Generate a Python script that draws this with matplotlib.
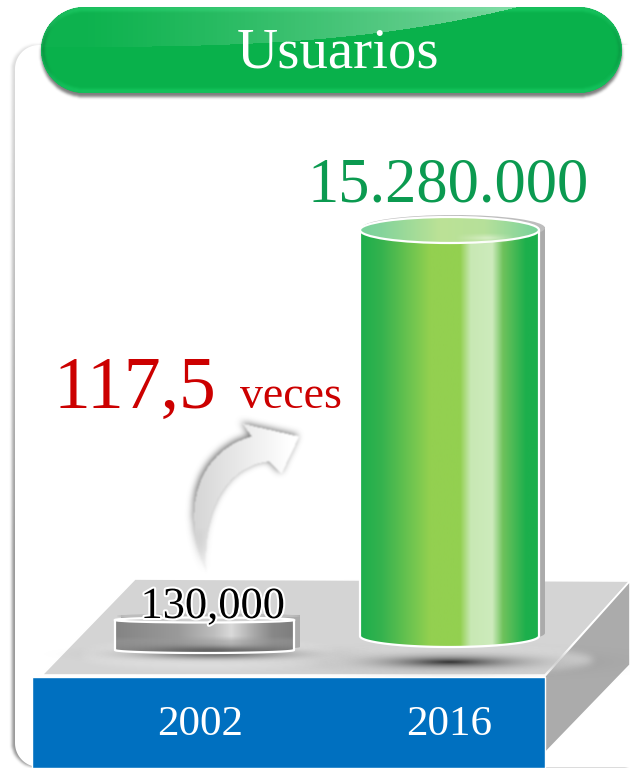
import numpy as np
import matplotlib
matplotlib.use('Agg')
import matplotlib.pyplot as plt
import matplotlib.patheffects as pe
from matplotlib.colors import LinearSegmentedColormap, to_rgb
from matplotlib.patches import Ellipse, Polygon
from matplotlib.path import Path

years = ['2002', '2016']
users = [130000, 15280000]
value_labels = ['130,000', '15.280.000']
title = 'Usuarios'
ratio_number = '117,5'
ratio_word = 'veces'

W, H = 630, 768
SERIF = 'Liberation Serif'
GRID_X, GRID_Y = np.meshgrid(np.arange(W) + 0.5, np.arange(H) + 0.5)


def bar_height(value):
    # the picture is not linear, small bar is far taller than it should be
    return 406 * (value / max(users)) ** 0.5465


def blur(a, size):
    kernel = np.ones(size) / size
    for _ in range(3):
        a = np.apply_along_axis(lambda r: np.convolve(r, kernel, mode='same'), 0, a)
        a = np.apply_along_axis(lambda r: np.convolve(r, kernel, mode='same'), 1, a)
    return a


def rgba_layer(ax, alpha, color, zorder):
    img = np.zeros((H, W, 4))
    img[..., :3] = to_rgb(color)
    img[..., 3] = np.clip(alpha, 0, 1)
    return ax.imshow(img, extent=(0, W, H, 0), aspect='auto', zorder=zorder,
                     interpolation='bilinear')


def path_mask(verts):
    pts = np.column_stack([GRID_X.ravel(), GRID_Y.ravel()])
    return Path(verts).contains_points(pts).reshape(H, W).astype(float)


def soft_ellipse(cx, cy, rx, ry, power=2.0):
    d = ((GRID_X - cx) / rx) ** 2 + ((GRID_Y - cy) / ry) ** 2
    return np.exp(-d ** (power / 2))


def gradient(ax, stops, extent, clip, zorder, vertical=False):
    cmap = LinearSegmentedColormap.from_list('g', stops)
    ramp = np.linspace(0, 1, 256)
    ramp = ramp[:, None] if vertical else ramp[None, :]
    im = ax.imshow(ramp, cmap=cmap, extent=extent, aspect='auto', zorder=zorder,
                   vmin=0, vmax=1, interpolation='bilinear')
    im.set_clip_path(clip)
    return im


def round_rect(x0, y0, x1, y1, r):
    t = np.linspace(0, np.pi / 2, 30)
    c, s = np.cos(t), np.sin(t)
    xs = np.concatenate([x1 - r + r * s, x1 - r + r * c, x0 + r - r * s, x0 + r - r * c])
    ys = np.concatenate([y0 + r - r * c, y1 - r + r * s, y1 - r + r * c, y0 + r - r * s])
    return np.column_stack([xs, ys])


def cylinder_side(x0, x1, top, bottom, ry):
    cx, hw = (x0 + x1) / 2, (x1 - x0) / 2
    t = np.linspace(np.pi, 0, 80)
    arc = np.column_stack([cx + hw * np.cos(t), bottom + ry * np.sin(t)])
    return np.vstack([[(x0, top)], arc, [(x1, top)]])


def bezier(p0, p1, p2, p3, n=40):
    t = np.linspace(0, 1, n)[:, None]
    p0, p1, p2, p3 = map(np.array, (p0, p1, p2, p3))
    return (1 - t) ** 3 * p0 + 3 * (1 - t) ** 2 * t * p1 + 3 * (1 - t) * t ** 2 * p2 + t ** 3 * p3


fig = plt.figure(figsize=(W / 100, H / 100), dpi=100, facecolor='white')
ax = fig.add_axes([0, 0, 1, 1])
ax.axis('off')

# rounded panel behind everything
panel_verts = round_rect(15, 45, 720, 767, 24)
panel_mask = path_mask(panel_verts)
panel_fade = 0.3 + 0.6 * np.clip((GRID_Y - 60) / 500, 0, 1)
rgba_layer(ax, blur(np.roll(panel_mask, -3, axis=1), 3) * panel_fade, '#8a8a8a', 1)
ax.add_patch(Polygon(panel_verts, closed=True, fc='white', ec='none', zorder=2))

# header pill
pill_verts = round_rect(41, 7, 622, 93, 43)
pill_mask = path_mask(pill_verts)
shadow = blur(np.roll(pill_mask, 4, axis=0), 3)
rgba_layer(ax, shadow * 0.62, '#303030', 3)
pill = Polygon(pill_verts, closed=True, fc='#09B14B', ec='none', zorder=4)
ax.add_patch(pill)

# rims of the pill
left_rim = pill_mask * (1 - blur(np.roll(pill_mask, 3, axis=1), 3))
rgba_layer(ax, left_rim * 0.75, '#0A7A38', 5)
right_rim = pill_mask * (1 - blur(np.roll(pill_mask, -3, axis=1), 3))
rgba_layer(ax, right_rim * 0.55, '#0A7A38', 5)
low_rim = pill_mask * (1 - blur(np.roll(pill_mask, -4, axis=0), 3))
rgba_layer(ax, low_rim * 0.7, '#19CF66', 5)
top_rim = pill_mask * (1 - blur(np.roll(pill_mask, 4, axis=0), 3))
rgba_layer(ax, top_rim * 0.6, '#20D56C', 5)

# gloss, fades in to the right and stops on a curve
pos = np.clip((GRID_X - 41) / 477, 0, 1)
curve = 47 - 40 * pos ** 3
gloss_alpha = (GRID_Y < curve) * (0.02 + 0.42 * np.clip((GRID_X - 80) / 420, 0, 1) ** 1.2)
gloss = rgba_layer(ax, gloss_alpha, '#ffffff', 6)
gloss.set_clip_path(pill)
ax.text(338, 68, title, family=SERIF, size=41, color='white', ha='center', va='baseline', zorder=7)

# platform
base_top = Polygon([(42, 675), (545, 675), (630, 581), (135, 579)], closed=True, fc='#D4D4D4', ec='white', lw=1.2, zorder=7)
base_side = Polygon([(545, 676), (630, 581), (630, 665), (545, 753)], closed=True, fc='#ABABAB', ec='white', lw=1.2, zorder=7)
base_front = Polygon([(32, 677), (545, 677), (545, 768), (32, 768)], closed=True, fc='#0070C0', ec='white', lw=1, zorder=9)
ax.add_patch(base_top)
ax.add_patch(base_side)
ax.add_patch(base_front)

# soft halos and shadows on the platform
halo = np.maximum(soft_ellipse(210, 655, 130, 14, 8) > 0.4, soft_ellipse(460, 660, 135, 13, 8) > 0.4).astype(float)
rgba_layer(ax, blur(halo, 7) * 0.75, '#E2E2E2', 8)
rgba_layer(ax, soft_ellipse(450, 662, 62, 5.5, 1.3) * 0.95, '#303030', 8)
rgba_layer(ax, soft_ellipse(215, 654, 75, 5, 2) * 0.7, '#4A4A4A', 8)

# cylinders, heights come from the values
centers = [204.5, 449.5]
half_widths = [89.5, 89.5]
bottoms = [650, 636]
bottom_ry = [3, 11]
top_ry = [2.5, 13]
back_dy = [-5, -3]
back_dx = [6, 6]

cyl_stops = [[(0, '#848484'), (0.35, '#9A9A9A'), (0.55, '#BDBDBD'), (0.65, '#DADADA'),
              (0.78, '#A8A8A8'), (0.88, '#888888'), (1, '#7E7E7E')],
             [(0, '#1CAF4C'), (0.12, '#35B24E'), (0.39, '#93D050'), (0.56, '#93D050'), (0.62, '#C8E8B4'),
              (0.74, '#CDEBBC'), (0.80, '#6FC25C'), (0.93, '#1CAF4C'), (1, '#1CAF4C')]]
top_stops = [[(0, '#C8C8C8'), (1, '#D8D8D8')],
             [(0, '#79D29B'), (0.12, '#85D49B'), (0.45, '#BCE296'), (0.7, '#B6E09A'), (1, '#79D29B')]]

for i, value in enumerate(users):
    cx = centers[i]
    hw = half_widths[i]
    x0, x1 = cx - hw, cx + hw
    bottom = bottoms[i]
    top = bottom - bar_height(value)

    # grey copy behind the bar, a bit to the right and up
    dx, dy = back_dx[i], back_dy[i]
    back_verts = cylinder_side(x0 + dx, x1 + dx, top + dy, bottom - 3, bottom_ry[i])
    ax.add_patch(Polygon(back_verts, closed=True, fc='#ABABAB', ec='none', zorder=10))
    ax.add_patch(Ellipse((cx + dx / 2 + 1, top + dy + 1), 2 * hw + dx - 2, 2 * top_ry[i], fc='#BDBDBD', ec='none', zorder=10))

    side = cylinder_side(x0, x1, top, bottom, bottom_ry[i])
    body = Polygon(side, closed=True, fc='none', ec='none', zorder=11)
    ax.add_patch(body)
    gradient(ax, cyl_stops[i], (x0, x1, bottom + bottom_ry[i], top - 1), body, 11)
    if i == 0:
        # lower band of the disc is a blurred reflection
        band = np.clip((GRID_Y - 636) / 5, 0, 1) * 0.5
        low = rgba_layer(ax, band, '#9A9A9A', 12)
        low.set_clip_path(body)
        low_dark = rgba_layer(ax, soft_ellipse(cx + 10, bottom + 1, 70, 5, 2) * 0.75, '#4A4A4A', 12)
        low_dark.set_clip_path(body)
    ax.add_patch(Polygon(side, closed=False, fc='none', ec='white', lw=1.6, zorder=13))
    lid = Ellipse((cx, top), 2 * hw, 2 * top_ry[i], fc='none', ec='none', zorder=14)
    ax.add_patch(lid)
    gradient(ax, top_stops[i], (x0, x1, top + top_ry[i], top - top_ry[i]), lid, 14)
    ax.add_patch(Ellipse((cx, top), 2 * hw, 2 * top_ry[i], fc='none', ec='white', lw=1.6, zorder=15))

# glare on the lid of the tall bar
glare = np.clip(1 - np.abs(GRID_Y - 238) / 5, 0, 1) * np.clip((GRID_X - 455) / 30, 0, 1) * np.clip((515 - GRID_X) / 25, 0, 1) * 0.65
rgba_layer(ax, glare, '#E6F4D8', 15)

# curved arrow
left_curve = bezier((205, 572), (178, 510), (195, 450), (250, 435))
right_curve = bezier((268, 460), (225, 465), (200, 510), (205, 572))
arrow_verts = np.vstack([left_curve, [(241, 422), (298, 435), (280, 473)], right_curve])
arrow_mask = path_mask(arrow_verts)
fade = np.clip((578 - GRID_Y) / 90, 0, 1)
rgba_layer(ax, blur(arrow_mask, 7) * 0.95 * fade, '#666666', 16)
shade = np.clip((GRID_X - 190) / 100, 0, 1)
arrow_img = np.zeros((H, W, 4))
arrow_img[..., :3] = (0.83 + 0.17 * shade)[..., None]
arrow_img[..., 3] = blur(arrow_mask, 2) * np.clip((578 - GRID_Y) / 50, 0, 1)
ax.imshow(arrow_img, extent=(0, W, H, 0), aspect='auto', zorder=17, interpolation='bilinear')

# texts
ax.text(448.5, 202, value_labels[1], family=SERIF, size=45, color='#0B9A50', ha='center', va='baseline', zorder=20)
ax.text(135, 408, ratio_number, family=SERIF, size=53, color='#CC0000', ha='center', va='baseline', zorder=20)
ax.text(291, 408, ratio_word, family=SERIF, size=33, color='#CC0000', ha='center', va='baseline', zorder=20)
ax.text(213, 618, value_labels[0], family=SERIF, size=32, color='black', ha='center', va='baseline', zorder=20,
        path_effects=[pe.withStroke(linewidth=3, foreground='white')])
for x, year in zip([200, 449], years):
    ax.text(x, 735, year, family=SERIF, size=31, color='white', ha='center', va='baseline', zorder=20)

ax.set_xlim(0, W)
ax.set_ylim(H, 0)
fig.savefig('out.png', dpi=100)
